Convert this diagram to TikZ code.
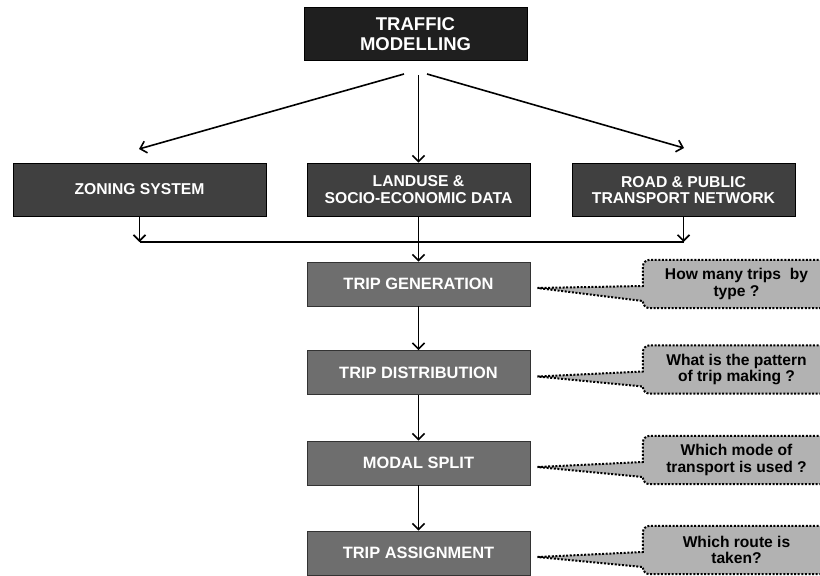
\documentclass[tikz,border=0pt]{standalone}
\usepackage{fontspec}
\setmainfont{Liberation Sans}
\usetikzlibrary{arrows.meta,calc,backgrounds}

\definecolor{topfill}{HTML}{1F1F1F}
\definecolor{inputfill}{HTML}{404040}
\definecolor{stagefill}{HTML}{6E6E6E}
\definecolor{notefill}{HTML}{B2B2B2}

\tikzset{
  topbox/.style={draw=black, line width=0.8pt, fill=topfill, text=white,
    font=\fontsize{18.5}{20}\selectfont\bfseries, align=center, inner sep=0pt,
    minimum width=223pt, minimum height=53pt},
  inputbox/.style={draw=black, line width=0.8pt, fill=inputfill, text=white,
    font=\fontsize{15.7}{16.2}\selectfont\bfseries, align=center, inner sep=0pt,
    minimum height=53pt},
  stagebox/.style={draw=black!80, line width=0.8pt, fill=stagefill, text=white,
    font=\fontsize{16.4}{17}\selectfont\bfseries, align=center, inner sep=0pt,
    minimum width=223pt, minimum height=44pt},
  notetext/.style={font=\fontsize{15.6}{16.5}\selectfont\bfseries, align=center,
    inner sep=0pt, minimum width=187pt, minimum height=48pt},
  noteshape/.style={fill=notefill, draw=black, line width=2pt,
    dash pattern=on 2pt off 1.6pt},
  arr/.style={draw=black, line width=1.6pt,
    -{Straight Barb[length=6pt,width=12pt,line width=1.6pt]}},
  link/.style={draw=black, line width=1.6pt}
}

% callout outline round a note node, pointing at a stage box
\newcommand\notecallout[2]{%
  \path[noteshape] ($(#2.east)+(7,4)$) -- ($(#1.west)+(0,2)$)
    [rounded corners=7pt] -- (#1.north west) -- (#1.north east)
    -- (#1.south east) -- (#1.south west)
    [sharp corners] -- ($(#1.west)+(0,17)$) -- cycle;
}

\begin{document}
\begin{tikzpicture}[x=1pt,y=-1pt]
\useasboundingbox (0,0) rectangle (820,576);

% top of the hierarchy
\node[topbox] (tm) at (415.5,34) {TRAFFIC\\MODELLING};

% input data
\node[inputbox, minimum width=253pt] (zs) at (139.5,189.5) {ZONING SYSTEM};
\node[inputbox, minimum width=223pt] (lu) at (418.5,189.5) {LANDUSE \&\\SOCIO-ECONOMIC DATA};
\node[inputbox, minimum width=223pt] (rd) at (683.5,190) {ROAD \& PUBLIC\\TRANSPORT NETWORK};

% four-stage model
\node[stagebox] (tg) at (418.5,284) {TRIP GENERATION};
\node[stagebox] (td) at (418.5,372.5) {TRIP DISTRIBUTION};
\node[stagebox] (ms) at (418.5,463) {MODAL SPLIT};
\node[stagebox] (ta) at (418.5,553) {TRIP ASSIGNMENT};

% questions answered at each stage
\node[notetext] (q1) at (736.5,284) {How many trips~ by\\type ?};
\node[notetext] (q2) at (736.5,369.5) {What is the pattern\\of trip making ?};
\node[notetext] (q3) at (736.5,460) {Which mode of\\transport is used ?};
\node[notetext] (q4) at (736.5,550) {Which route is\\taken?};

% arrows fanning out from the top box
\coordinate (sL) at (404,74);
\coordinate (sM) at (418.5,75);
\coordinate (sR) at (427,74);
\coordinate (eL) at (139,149);
\coordinate (eR) at (684,148);
\draw[arr] (sL) -- (eL);
\draw[arr] (sM) -- (lu.north);
\draw[arr] (sR) -- (eR);

% collector line under the input boxes
\coordinate (bus) at (0,242);
\draw[arr] (zs.south) -- (zs.south |- bus);
\draw[arr] (rd.south) -- (rd.south |- bus);
\draw[link] (zs.south |- bus) -- (rd.south |- bus);
\draw[arr] (lu.south) -- (tg.north);

% stage sequence
\draw[arr] (tg.south) -- (td.north);
\draw[arr] (td.south) -- (ms.north);
\draw[arr] (ms.south) -- (ta.north);

% callout shapes behind the question texts
\begin{pgfonlayer}{background}
\notecallout{q1}{tg}
\notecallout{q2}{td}
\notecallout{q3}{ms}
\notecallout{q4}{ta}
\end{pgfonlayer}
\end{tikzpicture}
\end{document}
